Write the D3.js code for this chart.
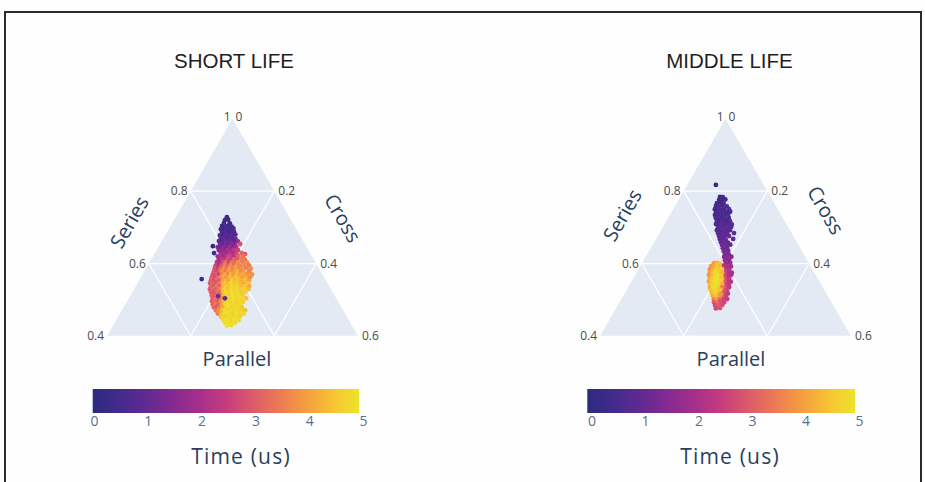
<!DOCTYPE html>
<html><head><meta charset="utf-8">
<script src="https://cdn.jsdelivr.net/npm/d3@7"></script>
<style>body{margin:0;background:#fff;}svg{display:block;}</style>
</head><body>
<svg id="chart" width="925" height="482"></svg>
<script>
// ---------------- data ----------------
const panelTitles = ["SHORT LIFE", "MIDDLE LIFE"];
const axisTitles = ["Series", "Cross", "Parallel"];
const seriesTicks = [0.4, 0.6, 0.8, 1];
const seriesTickLabels = ["0.4", "0.6", "0.8", "1"];
const crossTicks = [0, 0.2, 0.4, 0.6];
const crossTickLabels = ["0", "0.2", "0.4", "0.6"];
const seriesGrid = [0.6, 0.8];
const crossGrid = [0.2, 0.4];
const parallelGrid = [0.2, 0.4];
const timeTicks = [0, 1, 2, 3, 4, 5];
const colorbarTitle = "Time (us)";
const colorStops = ["#2c2b7e","#442a8c","#612a93","#842a92","#a62f8b","#c63c7e",
                    "#dc5a6a","#ec7a55","#f59d40","#f8c233","#ece32c"];

// [series, cross, time]  (parallel = 1 - series - cross)
const shortLife = [
[0.728,0.1226,0.35],
[0.720,0.1219,0.4],[0.721,0.1291,0.25],
[0.712,0.1236,0.5],[0.711,0.138,0.3],
[0.704,0.1231,0.45],[0.703,0.1327,0.6],[0.705,0.1399,0.35],[0.702,0.1471,0.5],
[0.695,0.1248,0.55],[0.696,0.132,0.4],[0.694,0.1392,0.7],[0.695,0.1464,0.5],[0.697,0.1536,0.6],
[0.687,0.1313,0.6],[0.686,0.1385,0.75],[0.688,0.1457,0.45],[0.686,0.1529,0.65],[0.687,0.1601,0.8],
[0.678,0.1308,0.7],[0.679,0.138,0.5],[0.677,0.1452,0.85],[0.679,0.1524,0.6],[0.678,0.1596,0.9],[0.680,0.1668,0.7],
[0.670,0.1373,0.8],[0.671,0.1445,0.95],[0.669,0.1517,0.65],[0.671,0.1589,1.0],[0.670,0.1661,0.75],[0.668,0.1733,1.1],
[0.662,0.1366,1.0],[0.661,0.1438,0.7],[0.663,0.151,1.1],[0.662,0.1582,0.9],[0.660,0.1654,1.2],[0.662,0.1726,0.85],[0.661,0.1822,1.6],
[0.654,0.1433,1.2],[0.653,0.1505,1.0],[0.655,0.1577,1.4],[0.653,0.1649,1.1],[0.654,0.1721,1.5],[0.652,0.1793,1.3],[0.654,0.1913,2.9],
[0.648,0.1292,0.3],
[0.645,0.1426,1.4],[0.646,0.1498,1.2],[0.644,0.157,1.6],[0.646,0.1642,1.3],[0.645,0.1714,1.8],[0.644,0.1786,1.5],[0.646,0.1858,2.0],
[0.637,0.149,1.5],[0.638,0.1562,1.8],[0.636,0.1634,1.6],[0.637,0.1706,2.1],[0.638,0.1778,1.9],[0.636,0.185,2.3],[0.637,0.1946,2.6],
[0.629,0.1414,0.5],
[0.629,0.1574,1.7],[0.628,0.1646,2.0],[0.630,0.1718,1.8],[0.628,0.179,2.3],[0.629,0.1862,2.1],[0.627,0.1958,2.6],[0.629,0.2078,3.1],
[0.626,0.217,3.0],
[0.620,0.155,1.9],[0.621,0.1622,2.2],[0.619,0.1694,1.7],[0.621,0.1766,2.4],[0.620,0.1838,2.7],[0.619,0.1934,2.3],[0.621,0.203,3.2],[0.620,0.215,3.4],
[0.612,0.1615,2.0],[0.613,0.1687,2.4],[0.611,0.1759,2.2],[0.612,0.1831,2.9],[0.613,0.1903,2.5],[0.611,0.1975,3.3],[0.612,0.2047,3.0],[0.613,0.2143,3.6],[0.611,0.2239,3.4],
[0.604,0.161,2.3],[0.603,0.1682,2.1],[0.605,0.1754,2.8],[0.603,0.1826,3.3],[0.604,0.1898,2.6],[0.602,0.197,3.5],[0.604,0.2042,3.2],[0.603,0.2114,3.8],[0.605,0.221,3.5],[0.603,0.233,3.7],
[0.595,0.1627,2.6],[0.596,0.1699,2.2],[0.594,0.1771,3.0],[0.596,0.1843,3.6],[0.595,0.1915,3.1],[0.594,0.1987,3.8],[0.596,0.2059,3.4],[0.595,0.2131,3.9],[0.594,0.2203,3.6],[0.596,0.2299,3.8],[0.595,0.2419,3.5],
[0.587,0.1644,2.9],[0.588,0.1716,2.5],[0.586,0.1788,3.2],[0.587,0.186,3.7],[0.588,0.1932,3.4],[0.586,0.2004,4.0],[0.587,0.2076,3.6],[0.588,0.2148,4.1],[0.586,0.222,3.7],[0.587,0.2292,3.9],[0.588,0.2388,3.6],[0.586,0.2508,3.8],
[0.579,0.1663,3.0],[0.578,0.1735,2.7],[0.580,0.1807,3.4],[0.578,0.1879,3.9],[0.579,0.1951,3.5],[0.577,0.2023,4.2],[0.579,0.2095,3.8],[0.580,0.2167,4.0],[0.578,0.2239,4.3],[0.579,0.2311,3.7],[0.577,0.2383,4.0],[0.579,0.2503,3.6],
[0.570,0.168,2.9],[0.571,0.1752,3.1],[0.569,0.1824,2.6],[0.571,0.1896,3.6],[0.570,0.1968,4.1],[0.572,0.204,3.7],[0.570,0.2112,4.3],[0.569,0.2184,3.9],[0.571,0.2256,4.4],[0.570,0.2328,4.0],[0.569,0.24,4.2],[0.571,0.2496,3.8],[0.570,0.2616,3.9],
[0.562,0.1697,3.0],[0.563,0.1769,2.8],[0.561,0.1841,3.2],[0.562,0.1913,3.8],[0.563,0.1985,4.2],[0.561,0.2057,3.9],[0.562,0.2129,4.5],[0.563,0.2201,4.1],[0.561,0.2273,4.6],[0.562,0.2345,4.3],[0.563,0.2417,4.0],[0.561,0.2513,4.2],[0.562,0.2609,3.8],
[0.554,0.1716,3.1],[0.553,0.1788,2.9],[0.555,0.186,3.3],[0.553,0.1932,3.0],[0.554,0.2004,4.0],[0.552,0.2076,4.4],[0.554,0.2148,4.1],[0.555,0.222,4.7],[0.553,0.2292,4.3],[0.554,0.2364,4.6],[0.552,0.2436,4.2],[0.554,0.2532,4.4],[0.553,0.2628,4.0],
[0.546,0.1733,3.0],[0.545,0.1805,3.2],[0.547,0.1877,2.9],[0.545,0.1949,3.4],[0.546,0.2021,4.1],[0.544,0.2093,4.6],[0.546,0.2165,4.3],[0.545,0.2237,4.8],[0.547,0.2309,4.5],[0.545,0.2381,4.7],[0.546,0.2453,4.4],[0.544,0.2549,4.2],[0.546,0.2645,4.5],
[0.537,0.18,3.2],[0.538,0.1872,3.0],[0.536,0.1944,3.5],[0.537,0.2016,3.1],[0.538,0.2088,4.3],[0.536,0.216,4.7],[0.537,0.2232,4.5],[0.538,0.2304,4.9],[0.536,0.2376,4.6],[0.537,0.2448,4.8],[0.538,0.252,4.4],[0.536,0.2616,4.6],[0.537,0.2712,4.1],
[0.529,0.1816,3.0],[0.530,0.1888,3.3],[0.528,0.196,3.1],[0.529,0.2032,3.6],[0.530,0.2104,4.2],[0.528,0.2176,4.8],[0.529,0.2248,4.5],[0.527,0.232,4.9],[0.529,0.2392,4.7],[0.530,0.2464,4.9],[0.528,0.2536,4.6],[0.529,0.2632,4.8],[0.530,0.2728,4.4],
[0.521,0.1882,3.1],[0.520,0.1954,2.9],[0.522,0.2026,3.4],[0.520,0.2098,3.2],[0.521,0.217,4.4],[0.519,0.2242,4.9],[0.521,0.2314,4.6],[0.522,0.2386,5.0],[0.520,0.2458,4.7],[0.521,0.253,4.9],[0.519,0.2602,4.5],[0.521,0.2698,4.7],
[0.512,0.1942,3.2],[0.513,0.2014,3.0],[0.511,0.2086,3.5],[0.513,0.2158,3.3],[0.512,0.223,4.5],[0.514,0.2302,4.8],[0.512,0.2374,4.6],[0.511,0.2446,5.0],[0.513,0.2518,4.8],[0.512,0.259,4.9],[0.511,0.2686,4.6],
[0.504,0.2011,3.0],[0.503,0.2083,3.4],[0.505,0.2155,3.2],[0.503,0.2227,3.7],[0.504,0.2371,4.9],[0.502,0.2443,4.7],[0.504,0.2515,5.0],[0.505,0.2587,4.8],[0.503,0.2683,4.9],[0.504,0.2803,4.5],
[0.496,0.203,3.1],[0.495,0.2102,3.3],[0.497,0.2174,3.0],[0.495,0.2246,3.8],[0.496,0.2318,4.6],[0.494,0.239,4.9],[0.496,0.2462,4.7],[0.497,0.2534,5.0],[0.495,0.2606,4.8],[0.496,0.2678,4.9],[0.494,0.2774,4.6],
[0.487,0.2095,3.2],[0.488,0.2167,3.5],[0.486,0.2239,3.1],[0.488,0.2311,4.0],[0.487,0.2383,4.7],[0.486,0.2455,5.0],[0.488,0.2527,4.8],[0.487,0.2599,4.9],[0.489,0.2671,4.7],[0.487,0.2767,4.9],
[0.479,0.216,3.3],[0.480,0.2232,3.0],[0.478,0.2304,3.6],[0.479,0.2376,4.2],[0.480,0.2448,4.8],[0.478,0.252,5.0],[0.479,0.2592,4.7],[0.481,0.2664,4.9],[0.479,0.2736,4.8],[0.478,0.2832,4.6],
[0.471,0.2251,3.4],[0.470,0.2323,3.8],[0.472,0.2395,4.4],[0.470,0.2467,4.9],[0.471,0.2539,4.7],[0.469,0.2611,5.0],[0.471,0.2683,4.8],[0.472,0.2755,4.9],[0.470,0.2851,4.7],[0.471,0.2947,4.5],
[0.462,0.234,3.6],[0.463,0.2412,4.3],[0.461,0.2484,4.8],[0.463,0.2556,5.0],[0.462,0.2628,4.9],[0.461,0.27,4.7],[0.463,0.2772,5.0],[0.462,0.2868,4.8],[0.461,0.2964,4.9],
[0.454,0.2453,4.5],[0.455,0.2525,4.9],[0.453,0.2597,4.7],[0.454,0.2669,5.0],[0.455,0.2741,4.8],[0.453,0.2813,4.9],[0.454,0.2909,4.7],
[0.446,0.2544,4.8],[0.445,0.2616,5.0],[0.447,0.2688,4.9],[0.445,0.276,4.8],[0.446,0.2832,5.0],[0.444,0.2928,4.9],
[0.437,0.2633,4.9],[0.438,0.2705,5.0],[0.436,0.2777,4.8],[0.437,0.2873,4.9],
[0.429,0.2722,5.0],[0.430,0.2818,4.9],
[0.557,0.1478,0.3],[0.510,0.2105,1.3],[0.504,0.2299,1.0]
];

const middleLife = [
[0.817,0.0686,0.2],
[0.784,0.0948,0.4],[0.783,0.102,0.5],
[0.776,0.0967,0.3],[0.775,0.1039,0.6],[0.777,0.1111,0.45],
[0.767,0.096,0.5],[0.768,0.1056,0.35],[0.766,0.1128,0.7],
[0.759,0.0977,0.4],[0.758,0.1049,0.6],[0.760,0.1121,0.5],[0.758,0.1241,0.75],
[0.750,0.0996,0.55],[0.751,0.1068,0.4],[0.749,0.114,0.65],[0.751,0.1212,0.5],[0.750,0.1332,0.8],
[0.742,0.1061,0.45],[0.743,0.1133,0.7],[0.741,0.1205,0.6],[0.742,0.1301,0.5],[0.743,0.1397,0.65],
[0.734,0.1078,0.6],[0.733,0.115,0.5],[0.735,0.1222,0.75],[0.733,0.1294,0.55],[0.734,0.139,0.7],
[0.726,0.1137,0.65],[0.725,0.1209,0.8],[0.727,0.1281,0.5],[0.725,0.1353,0.7],[0.726,0.1449,0.6],
[0.717,0.121,0.7],[0.718,0.1282,0.55],[0.716,0.1354,0.85],[0.718,0.1426,0.6],[0.717,0.1522,0.75],
[0.709,0.1226,0.8],[0.710,0.1298,0.6],[0.708,0.137,0.9],[0.709,0.1442,0.7],[0.710,0.1514,0.65],[0.708,0.161,0.85],
[0.701,0.1318,0.75],[0.700,0.139,0.9],[0.702,0.1462,0.7],[0.700,0.1534,0.95],[0.701,0.163,0.8],
[0.692,0.1334,0.85],[0.693,0.1406,0.7],[0.691,0.1478,1.0],[0.693,0.155,0.8],[0.692,0.1646,0.9],
[0.684,0.1399,0.9],[0.685,0.1471,0.75],[0.683,0.1543,1.0],[0.685,0.1615,0.85],[0.684,0.1783,0.9],
[0.676,0.1464,0.8],[0.675,0.1536,1.0],[0.677,0.1608,0.9],[0.676,0.1704,1.05],
[0.667,0.1531,0.95],[0.668,0.1603,0.85],[0.666,0.1675,1.1],[0.668,0.1843,1.0],
[0.659,0.1596,1.0],[0.660,0.1668,1.15],[0.658,0.1764,0.9],
[0.651,0.1661,1.1],[0.650,0.1757,1.2],[0.652,0.1853,1.0],
[0.642,0.1728,1.2],[0.643,0.1824,1.1],
[0.634,0.1793,1.3],[0.635,0.1889,1.2],
[0.626,0.1858,1.4],[0.625,0.1954,1.3],
[0.618,0.1877,1.5],[0.617,0.1949,1.6],[0.619,0.2045,1.4],
[0.609,0.1942,1.7],[0.610,0.2038,1.6],
[0.601,0.2006,1.8],[0.602,0.2102,1.7],
[0.593,0.2074,2.0],[0.592,0.217,1.9],[0.594,0.1978,2.2],
[0.584,0.2066,2.4],[0.585,0.2162,2.1],
[0.576,0.2107,2.6],[0.577,0.2203,2.2],[0.575,0.2275,2.0],
[0.568,0.2126,3.0],[0.567,0.2222,2.3],[0.569,0.2294,2.1],
[0.559,0.2191,2.8],[0.560,0.2287,2.4],
[0.551,0.2208,3.2],[0.552,0.2304,2.5],[0.550,0.2376,2.2],
[0.543,0.2299,2.7],[0.542,0.2371,2.4],
[0.534,0.2316,2.9],[0.535,0.2412,2.3],
[0.526,0.2309,3.1],[0.527,0.2405,2.6],
[0.518,0.2376,2.8],[0.517,0.2472,2.4],
[0.510,0.2369,3.3],[0.509,0.2465,2.6],
[0.501,0.2434,2.7],[0.502,0.253,2.5],
[0.601,0.1718,4.0],[0.602,0.179,4.3],[0.600,0.1862,4.5],
[0.593,0.169,3.9],[0.592,0.1762,4.2],[0.594,0.1834,4.6],[0.592,0.1906,4.4],
[0.584,0.1706,3.8],[0.585,0.1778,4.1],[0.583,0.185,4.7],[0.585,0.1922,4.5],[0.584,0.1994,4.8],
[0.576,0.1747,4.0],[0.577,0.1819,4.5],[0.575,0.1891,4.9],[0.577,0.1963,4.7],[0.576,0.2035,4.4],
[0.568,0.1766,3.9],[0.567,0.1838,4.3],[0.569,0.191,4.8],[0.567,0.1982,5.0],[0.568,0.2054,4.6],
[0.559,0.1831,4.2],[0.560,0.1903,4.6],[0.558,0.1975,5.0],[0.560,0.2047,4.8],[0.559,0.2119,4.5],
[0.551,0.1848,4.1],[0.552,0.192,4.7],[0.550,0.1992,4.9],[0.552,0.2064,5.0],[0.551,0.2136,4.7],
[0.543,0.1915,4.4],[0.542,0.1987,4.8],[0.544,0.2059,5.0],[0.542,0.2131,4.9],[0.543,0.2203,4.3],
[0.534,0.1956,4.3],[0.535,0.2028,4.9],[0.533,0.21,5.0],[0.535,0.2172,4.8],[0.534,0.2244,3.6],
[0.526,0.2021,4.5],[0.527,0.2093,4.9],[0.525,0.2165,4.7],[0.527,0.2237,4.4],
[0.518,0.2088,4.4],[0.517,0.216,4.8],[0.519,0.2232,4.6],[0.517,0.2304,3.8],
[0.510,0.2153,4.2],[0.509,0.2225,4.6],[0.511,0.2297,4.0],
[0.501,0.2218,3.6],[0.502,0.229,4.1],[0.500,0.2362,3.2],
[0.493,0.2261,3.0],[0.492,0.2333,3.4],[0.494,0.2405,2.9],[0.493,0.2501,2.6],
[0.485,0.2326,2.8],[0.484,0.2398,3.0],[0.486,0.2494,2.7],
[0.476,0.239,2.7],[0.477,0.2486,2.9]
];

// ---------------- layout ----------------
const svg = d3.select("#chart");
svg.append("rect").attr("width",925).attr("height",482).attr("fill","#fefefe");
svg.append("path").attr("d","M5,482V12H921V482").attr("fill","none")
   .attr("stroke","#2b2b2b").attr("stroke-width",2);

const FONT = "'Open Sans', 'Noto Sans', sans-serif";
const colorScale = d3.scaleLinear()
  .domain(colorStops.map((c,i)=> i*5/(colorStops.length-1)))
  .range(colorStops).interpolate(d3.interpolateRgb).clamp(true);

const grad = svg.append("defs").append("linearGradient").attr("id","cbgrad")
  .attr("x1","0%").attr("x2","100%").attr("y1","0%").attr("y2","0%");
colorStops.forEach((c,i)=> grad.append("stop")
  .attr("offset",(i/(colorStops.length-1)*100)+"%").attr("stop-color",c));

const panels = [
  {title:panelTitles[0], data:shortLife, xL:107, W:251, base:336, titleX:234,
   seriesLab:[129,222], crossLab:[343,218], parLab:[237,358],
   cbX:[92.7,359], cbTick:[94,363], cbTitleX:241},
  {title:panelTitles[1], data:middleLife, xL:600, W:251, base:336, titleX:729.5,
   seriesLab:[622,215], crossLab:[826,210], parLab:[731,358],
   cbX:[587.3,855], cbTick:[591.5,859], cbTitleX:730}
];

panels.forEach(p => {
  const g = svg.append("g");
  const H = p.W*Math.sqrt(3)/2;
  const yS = d3.scaleLinear().domain([0.4,1]).range([p.base, p.base-H]);
  const shiftS = d3.scaleLinear().domain([0.4,1]).range([0, p.W/2]);
  const cS = d3.scaleLinear().domain([0,0.6]).range([0, p.W]);
  const pt = (a,c) => [p.xL + shiftS(a) + cS(c), yS(a)];

  // title
  g.append("text").attr("x",p.titleX).attr("y",68).attr("text-anchor","middle")
    .attr("font-family","'Liberation Sans', Arial, sans-serif").attr("font-size",20.5)
    .attr("fill","#1e1e1e").text(p.title);

  // background triangle
  const tri = [pt(1,0), pt(0.4,0), pt(0.4,0.6)];
  g.append("path").attr("d","M"+tri.map(d=>d.join(",")).join("L")+"Z").attr("fill","#e4eaf4");

  // grid
  const gridLines = [];
  seriesGrid.forEach(a => gridLines.push([pt(a,0), pt(a,1-a)]));
  crossGrid.forEach(c => gridLines.push([pt(1-c,c), pt(0.4,c)]));
  parallelGrid.forEach(b => gridLines.push([pt(1-b,0), pt(0.4,0.6-b)]));
  g.selectAll("line.grid").data(gridLines).join("line")
    .attr("x1",d=>d[0][0]).attr("y1",d=>d[0][1]).attr("x2",d=>d[1][0]).attr("y2",d=>d[1][1])
    .attr("stroke","#ffffff").attr("stroke-width",1.2);
  g.append("line").attr("x1",pt(0.4,0)[0]).attr("x2",pt(0.4,0.6)[0])
    .attr("y1",p.base+0.5).attr("y2",p.base+0.5).attr("stroke","#fff").attr("stroke-width",1.5);

  // tick labels
  g.selectAll("text.sl").data(seriesTicks).join("text")
    .attr("x",d=>pt(d,0)[0]-(d===1?2:3)).attr("y",d=>pt(d,0)[1]-(d===1?2:0)).attr("dy","0.35em")
    .attr("text-anchor","end").attr("font-family",FONT).attr("font-size",12).attr("fill","#4a4a4a")
    .text((d,i)=>seriesTickLabels[i]);
  g.selectAll("text.cl").data(crossTicks).join("text")
    .attr("x",d=>pt(1-d,d)[0]+(d===0?3:4)).attr("y",d=>pt(1-d,d)[1]-(d===0?2:0)).attr("dy","0.35em")
    .attr("text-anchor","start").attr("font-family",FONT).attr("font-size",12).attr("fill","#4a4a4a")
    .text((d,i)=>crossTickLabels[i]);

  // axis titles
  const titleStyle = s => s.attr("font-family",FONT).attr("font-size",20).attr("fill","#2a3f5f")
    .attr("text-anchor","middle").attr("dominant-baseline","central");
  g.append("text").call(titleStyle).attr("transform",`translate(${p.seriesLab}) rotate(-60)`).text(axisTitles[0]);
  g.append("text").call(titleStyle).attr("transform",`translate(${p.crossLab}) rotate(60)`).text(axisTitles[1]);
  g.append("text").call(titleStyle).attr("transform",`translate(${p.parLab})`).text(axisTitles[2]);

  // points
  g.selectAll("circle").data(p.data).join("circle")
    .attr("cx",d=>pt(d[0],d[1])[0]).attr("cy",d=>pt(d[0],d[1])[1])
    .attr("r",2.4).attr("fill",d=>colorScale(d[2]));

  // colorbar
  g.append("rect").attr("x",p.cbX[0]).attr("y",389).attr("width",p.cbX[1]-p.cbX[0]).attr("height",24)
    .attr("fill","url(#cbgrad)");
  const tS = d3.scaleLinear().domain([0,5]).range(p.cbTick);
  const ax = g.append("g").attr("transform","translate(0,414)")
    .call(d3.axisBottom(tS).tickValues(timeTicks).tickFormat(d3.format("d")).tickSize(0).tickPadding(2));
  ax.select(".domain").remove();
  ax.selectAll("text").attr("font-family",FONT).attr("font-size",14).attr("fill","#5d6d88");
  g.append("text").attr("x",p.cbTitleX).attr("y",464).attr("text-anchor","middle")
    .attr("font-family",FONT).attr("font-size",21).attr("letter-spacing","1.2px")
    .attr("fill","#2a3f5f").text(colorbarTitle);
});
</script>
</body></html>
